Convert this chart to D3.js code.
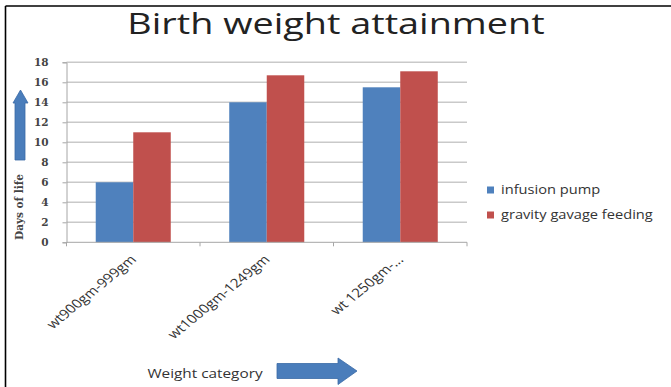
<!DOCTYPE html>
<html>
<head>
<meta charset="utf-8">
<script src="https://cdn.jsdelivr.net/npm/d3@7/dist/d3.min.js"></script>
<style>
  html, body { margin: 0; padding: 0; background: #fff; }
  svg { display: block; }
</style>
</head>
<body>
<svg id="chart" width="671" height="387"></svg>
<script>
// Birth weight attainment: days of life per weight category, two feeding methods
const categories = ["wt900gm-999gm", "wt1000gm-1249gm", "wt 1250gm-..."];
const seriesNames = ["infusion pump", "gravity gavage feeding"];
const infusionPump = [6, 14, 15.5];
const gravityGavage = [11, 16.7, 17.1];
const yTicks = [0, 2, 4, 6, 8, 10, 12, 14, 16, 18];
const colors = ["#4F81BD", "#C0504D"];

const series = [infusionPump, gravityGavage];
const svg = d3.select("#chart");
const sx = 1.22; // horizontal widening applied to text

// frame lines along top and left
svg.append("line").attr("x1", 5.5).attr("x2", 671).attr("y1", 6).attr("y2", 6)
  .attr("stroke", "#000").attr("stroke-width", 1.6);
svg.append("line").attr("x1", 5.5).attr("x2", 5.5).attr("y1", 6).attr("y2", 387)
  .attr("stroke", "#000").attr("stroke-width", 1.6);

const plotLeft = 66.5, plotRight = 467, plotTop = 62.3, plotBottom = 242.3;

const x = d3.scaleBand().domain(categories).range([plotLeft, plotRight])
  .paddingInner(0.438).paddingOuter(0.219);
const x1 = d3.scaleBand().domain(d3.range(series.length)).range([0, x.bandwidth()]);
const y = d3.scaleLinear().domain([0, 18]).range([plotBottom, plotTop]);

// gridlines
svg.append("g").selectAll("line").data(yTicks.filter(d => d > 0)).join("line")
  .attr("x1", plotLeft).attr("x2", plotRight)
  .attr("y1", d => y(d)).attr("y2", d => y(d))
  .attr("stroke", "#c9c9c9").attr("stroke-width", 1.5);

// bars
const groups = svg.append("g").selectAll("g").data(categories).join("g")
  .attr("transform", c => `translate(${x(c)},0)`);
groups.selectAll("rect")
  .data((c, i) => series.map((s, k) => ({ k, v: s[i] })))
  .join("rect")
  .attr("x", d => x1(d.k))
  .attr("width", x1.bandwidth())
  .attr("y", d => y(d.v))
  .attr("height", d => y(0) - y(d.v))
  .attr("fill", d => colors[d.k]);

// y axis
const yAxis = d3.axisLeft(y).tickValues(yTicks).tickSize(4).tickPadding(14);
const gy = svg.append("g").attr("transform", `translate(${plotLeft},0)`).call(yAxis);
gy.select(".domain").attr("stroke", "#a6a6a6");
gy.selectAll(".tick line").attr("stroke", "#a6a6a6");
gy.selectAll(".tick text")
  .attr("font-family", "'DejaVu Serif', serif").attr("font-weight", "bold")
  .attr("font-size", 10.5).attr("fill", "#444");

// x axis line with boundary ticks
svg.append("line").attr("x1", plotLeft).attr("x2", plotRight)
  .attr("y1", plotBottom).attr("y2", plotBottom).attr("stroke", "#a6a6a6");
const step = x.step();
svg.append("g").selectAll("line").data(d3.range(categories.length + 1)).join("line")
  .attr("x1", i => plotLeft + i * step).attr("x2", i => plotLeft + i * step)
  .attr("y1", plotBottom).attr("y2", plotBottom + 4).attr("stroke", "#a6a6a6");

// category labels, slanted
svg.append("g").selectAll("text").data(categories).join("text")
  .attr("transform", c => `translate(${x(c) + x.bandwidth() / 2 + 4},${plotBottom + 18}) scale(${sx},1) rotate(-45)`)
  .attr("text-anchor", "end")
  .attr("font-family", "'Open Sans', sans-serif").attr("font-size", 12.5)
  .attr("fill", "#333").text(c => c);

// title
svg.append("text").attr("transform", `translate(336,34) scale(1.26,1)`)
  .attr("text-anchor", "middle")
  .attr("font-family", "'Open Sans', sans-serif").attr("font-size", 30)
  .attr("fill", "#222").text("Birth weight attainment");

// y axis title
svg.append("text").attr("transform", "translate(23,207) rotate(-90)")
  .attr("text-anchor", "middle")
  .attr("font-family", "'DejaVu Serif', serif").attr("font-weight", "bold")
  .attr("font-size", 10.5).attr("fill", "#444").text("Days of life");

// x axis title
svg.append("text").attr("transform", `translate(205,378) scale(1.18,1)`)
  .attr("text-anchor", "middle")
  .attr("font-family", "'Open Sans', sans-serif").attr("font-size", 13)
  .attr("fill", "#333").text("Weight category");

// arrows
const arrowBlue = "#4a7dbb";
svg.append("path")
  .attr("d", "M20.5,90 L28,103 L25,103 L25,160 L15,160 L15,103 L13,103 Z")
  .attr("fill", arrowBlue).attr("stroke", "#3a6aa6").attr("stroke-width", 0.8);
svg.append("path")
  .attr("d", "M277,363.5 L338,363.5 L338,358 L357,371 L338,384.5 L338,378.5 L277,378.5 Z")
  .attr("fill", arrowBlue).attr("stroke", "#3a6aa6").attr("stroke-width", 0.8);

// legend
const legend = svg.append("g").selectAll("g").data(seriesNames).join("g")
  .attr("transform", (d, i) => `translate(487,${190 + i * 25})`);
legend.append("rect").attr("x", 0).attr("y", -3.5).attr("width", 7).attr("height", 7)
  .attr("fill", (d, i) => colors[i]);
legend.append("text").attr("transform", `translate(14,0) scale(${sx},1)`)
  .attr("dy", "0.35em")
  .attr("font-family", "'Open Sans', sans-serif").attr("font-size", 12)
  .attr("fill", "#333").text(d => d);
</script>
</body>
</html>
